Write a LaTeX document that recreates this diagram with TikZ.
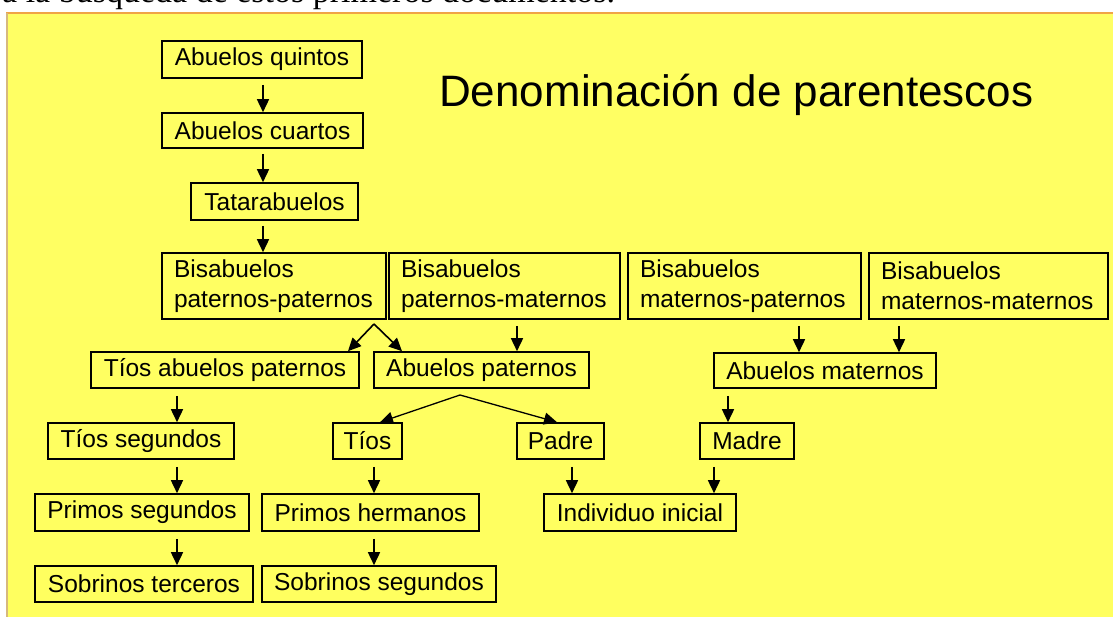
\documentclass[tikz,border=0pt]{standalone}
\usepackage{fontspec}
\setmainfont{Liberation Sans}
\newfontfamily\seriffont{Liberation Serif}
\usetikzlibrary{arrows.meta}
\definecolor{panelTop}{RGB}{255,255,100}
\definecolor{panelMid}{RGB}{255,255,165}
\definecolor{panelBot}{RGB}{255,255,95}
\definecolor{borderTop}{RGB}{240,165,70}
\definecolor{borderLeft}{RGB}{215,185,125}
\newcommand\bx[6]{\node[box, minimum width={(#4-#2)*1pt}, minimum height={(#5-#3)*1pt}] (#1) at ({(#2+#4)/2},{(#3+#5)/2}) {#6};}
\newcommand\bxl[6]{\node[box, align=left, text width={(#4-#2-24)*1pt}, minimum width={(#4-#2)*1pt}, minimum height={(#5-#3)*1pt}] (#1) at ({(#2+#4)/2},{(#3+#5)/2}) {#6};}
\begin{document}
\begin{tikzpicture}[x=1pt,y=-1pt,
  box/.style={draw=black, line width=1.6pt, inner sep=0pt, text=black,
    font=\fontsize{24.5}{30}\selectfont},
  arr/.style={line width=1.6pt, -{Triangle[length=13pt,width=12pt]}},
  title/.style={font=\fontsize{44}{50}\selectfont, inner sep=0pt, anchor=base west},
]
\useasboundingbox (0,0) rectangle (1113,617);
\clip (0,0) rectangle (1113,617);
\fill[white] (0,0) rectangle (1113,617);
\node[anchor=base west, inner sep=0pt, font=\seriffont\fontsize{34}{40}\selectfont] (frag) at (2,3) {a la búsqueda de estos primeros documentos.};
\shade[top color=panelTop, middle color=panelMid, bottom color=panelBot] (7,13) rectangle (1120,620);
\draw[borderTop, line width=2.2pt] (6,13) -- (1120,13);
\draw[borderLeft, line width=1.5pt] (7,13) -- (7,620);

\node[title] (ttl) at (439,107) {Denominación de parentescos};

\bx{q}{162}{41}{362}{78}{Abuelos quintos}
\bx{c}{162}{113}{363}{148}{Abuelos cuartos}
\bx{t}{191}{183}{358}{220}{Tatarabuelos}
\bxl{bpp}{162}{253}{386}{319}{Bisabuelos\\paternos-paternos}
\bxl{bpm}{389}{253}{620}{319}{Bisabuelos\\paternos-maternos}
\bxl{bmp}{628}{253}{861}{319}{Bisabuelos\\maternos-paternos}
\bxl{bmm}{869}{253}{1108}{319}{Bisabuelos\\maternos-maternos}
\bx{tap}{91}{352}{359}{388}{Tíos abuelos paternos}
\bx{ap}{374}{352}{589}{388}{Abuelos paternos}
\bx{am}{714}{353}{936}{388}{Abuelos maternos}
\bx{ts}{48}{423}{234}{459}{Tíos segundos}
\bx{tios}{333}{423}{402}{459}{Tíos}
\bx{padre}{517}{423}{604}{459}{Padre}
\bx{madre}{700}{423}{794}{459}{Madre}
\bx{ps}{35}{494}{249}{531}{Primos segundos}
\bx{ph}{262}{494}{479}{531}{Primos hermanos}
\bx{ii}{544}{494}{736}{531}{Individuo inicial}
\bx{st}{35}{566}{253}{602}{Sobrinos terceros}
\bx{ss}{262}{566}{496}{602}{Sobrinos segundos}

\coordinate (xa) at (263,0);
\coordinate (xb) at (517,0);
\coordinate (xc) at (799,0);
\coordinate (xd) at (899,0);
\coordinate (xe) at (177,0);
\coordinate (xf) at (728,0);
\coordinate (xg) at (374,0);
\coordinate (xh) at (572,0);
\coordinate (xi) at (714,0);
\coordinate (xj) at (348,0);
\coordinate (xk) at (402,0);
\coordinate (xl) at (380,0);
\coordinate (xm) at (557,0);
\coordinate (f1) at (374,324);
\coordinate (f2) at (460,395);

\draw[arr] (q.south -| xa) ++(0,6) -- (c.north -| xa);
\draw[arr] (c.south -| xa) ++(0,5) -- (t.north -| xa);
\draw[arr] (t.south -| xa) ++(0,5) -- (bpp.north -| xa);
\draw[arr] (f1) -- (tap.north -| xj);
\draw[arr] (f1) -- (ap.north -| xk);
\draw[arr] (bpm.south -| xb) ++(0,6) -- (ap.north -| xb);
\draw[arr] (bmp.south -| xc) ++(0,6) -- (am.north -| xc);
\draw[arr] (bmm.south -| xd) ++(0,6) -- (am.north -| xd);
\draw[arr] (tap.south -| xe) ++(0,7) -- (ts.north -| xe);
\draw[arr, line width=1.3pt] (f2) -- (tios.north -| xl);
\draw[arr, line width=1.3pt] (f2) -- (padre.north -| xm);
\draw[arr] (am.south -| xf) ++(0,7) -- (madre.north -| xf);
\draw[arr] (ts.south -| xe) ++(0,7) -- (ps.north -| xe);
\draw[arr] (tios.south -| xg) ++(0,7) -- (ph.north -| xg);
\draw[arr] (padre.south -| xh) ++(0,7) -- (ii.north -| xh);
\draw[arr] (madre.south -| xi) ++(0,7) -- (ii.north -| xi);
\draw[arr] (ps.south -| xe) ++(0,7) -- (st.north -| xe);
\draw[arr] (ph.south -| xg) ++(0,7) -- (ss.north -| xg);
\end{tikzpicture}
\end{document}
